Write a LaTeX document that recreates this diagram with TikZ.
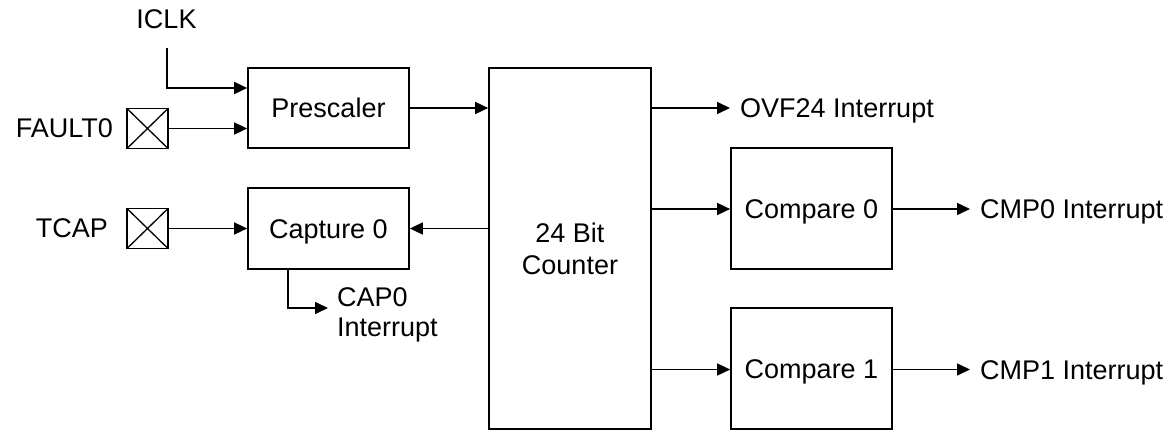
\documentclass[tikz,border=0pt]{standalone}
\usepackage{fontspec}
\setmainfont{Liberation Sans}
\usetikzlibrary{arrows.meta}
\begin{document}
\begin{tikzpicture}[x=1pt,y=-1pt,
  every node/.style={font=\fontsize{27}{30}\selectfont},
  blk/.style={draw,line width=1.7pt,inner sep=0pt,text height=19.4pt,text depth=0pt},
  pin/.style={draw,line width=1.7pt,minimum width=41pt,minimum height=40pt,inner sep=0pt,
    path picture={\draw[line width=1.3pt] (path picture bounding box.north west)--(path picture bounding box.south east)
      (path picture bounding box.north east)--(path picture bounding box.south west);}},
  lbl/.style={inner sep=0pt,text height=19.4pt,text depth=0pt},
  wire/.style={line width=1.6pt,-{Triangle[length=13pt,width=12pt]}}]
\useasboundingbox (0,0) rectangle (1169,431);
% blocks
\node[blk,minimum width=161pt,minimum height=80pt] (presc) at (328.5,108) {Prescaler};
\node[blk,minimum width=161pt,minimum height=81pt] (cap) at (328.5,228.5) {Capture 0};
\node[draw,line width=1.7pt,inner sep=0pt,minimum width=162pt,minimum height=361pt,align=center,
  font=\fontsize{27}{32}\selectfont] (cnt) at (570,248.5) {24 Bit\\Counter};
\node[blk,minimum width=161pt,minimum height=121pt] (cmp0) at (811.5,208.5) {Compare 0};
\node[blk,minimum width=161pt,minimum height=121pt] (cmp1) at (811.5,368.5) {Compare 1};
% pins
\node[pin] (pin1) at (147.5,128.5) {};
\node[pin] (pin2) at (147.5,228.5) {};
% labels
\node[lbl] (iclk) at (166.5,19) {ICLK};
\node[lbl,anchor=east] (fault) at (113,128) {FAULT0};
\node[lbl,anchor=east] (tcap) at (108,228) {TCAP};
\node[lbl,anchor=west] (ovf) at (740,108) {OVF24 Interrupt};
\node[lbl,anchor=west] (cmp0i) at (980,209) {CMP0 Interrupt};
\node[lbl,anchor=west] (cmp1i) at (980,369.5) {CMP1 Interrupt};
\node[inner sep=0pt,anchor=north west,align=left,font=\fontsize{27}{30}\selectfont] (cap0i) at (337,287.5) {CAP0\\Interrupt};
% connectors
\coordinate (iclkin) at (167,48);
\draw[wire] (iclkin) |- ([yshift=20pt]presc.west);
\draw[wire] (pin1.east) -- (presc.west|-pin1.east);
\draw[wire] (presc.east) -- (cnt.west|-presc.east);
\draw[wire] (pin2.east) -- (cap.west|-pin2.east);
\draw[wire] (cnt.west|-cap.east) -- (cap.east);
\draw[wire] ([xshift=-40.5pt]cap.south) |- ([xshift=-9pt,yshift=-20.5pt]cap0i.north west);
\draw[wire] (cnt.east|-presc.east) -- ([xshift=-10pt]ovf.west);
\draw[wire] (cnt.east|-cmp0i.west) -- (cmp0.west|-cmp0i.west);
\draw[wire] (cnt.east|-cmp1i.west) -- (cmp1.west|-cmp1i.west);
\draw[wire] (cmp0.east|-cmp0i.west) -- ([xshift=-10pt]cmp0i.west);
\draw[wire] (cmp1.east|-cmp1i.west) -- ([xshift=-10pt]cmp1i.west);
\end{tikzpicture}
\end{document}
